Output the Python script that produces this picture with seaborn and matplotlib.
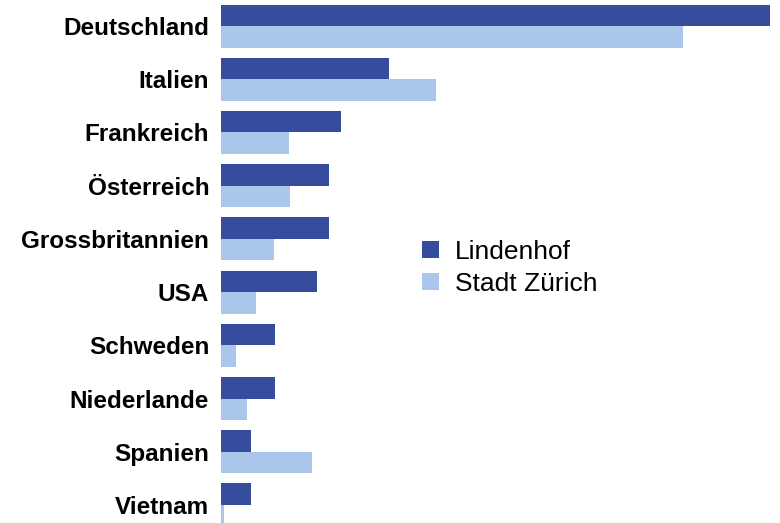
import pandas as pd
import seaborn as sns
import matplotlib.pyplot as plt

laender = ['Deutschland', 'Italien', 'Frankreich', 'Österreich', 'Grossbritannien',
           'USA', 'Schweden', 'Niederlande', 'Spanien', 'Vietnam']
lindenhof = [45.75, 14.0, 10.0, 9.0, 9.0, 8.0, 4.5, 4.5, 2.5, 2.5]
stadt_zuerich = [38.5, 17.9, 5.7, 5.75, 4.4, 2.9, 1.25, 2.2, 7.6, 0.25]
gebiete = ['Lindenhof', 'Stadt Zürich']
farben = ['#364C9C', '#AAC6EA']

df = pd.DataFrame({
    'Land': laender * 2,
    'Wert': lindenhof + stadt_zuerich,
    'Gebiet': [gebiete[0]] * len(laender) + [gebiete[1]] * len(laender),
})

sns.set_style("white")
plt.rcParams['font.family'] = ['Liberation Sans', 'DejaVu Sans']
plt.rcParams['text.color'] = 'black'
plt.rcParams['ytick.color'] = 'black'

fig = plt.figure(figsize=(7.8, 5.23), dpi=100)
ax = fig.add_axes([221 / 780, 0, 549 / 780, 1])

sns.barplot(data=df, x='Wert', y='Land', hue='Gebiet', orient='h',
            palette=farben, saturation=1, width=0.81, linewidth=0,
            ax=ax, legend=False)

ax.set_xlim(0, max(lindenhof))
ax.set_ylim(9.34, -0.49)
ax.set_xlabel('')
ax.set_ylabel('')
ax.set_xticks([])
ax.tick_params(axis='y', length=0, pad=8.5, labelsize=17.5, labelcolor='black')
for lab in ax.get_yticklabels():
    lab.set_fontweight('bold')
sns.despine(ax=ax, left=True, bottom=True)

# Legende in der Mitte der Grafik
handles = [plt.Rectangle((0, 0), 1, 1, color=c, linewidth=0) for c in farben]
fig.legend(handles, gebiete, loc='center left', bbox_to_anchor=(422 / 780, 0.4876),
           frameon=False, fontsize=19, borderpad=0, borderaxespad=0,
           handlelength=0.64, handleheight=0.64, handletextpad=0.6,
           labelspacing=0.3)

fig.savefig('out.png', dpi=100)
